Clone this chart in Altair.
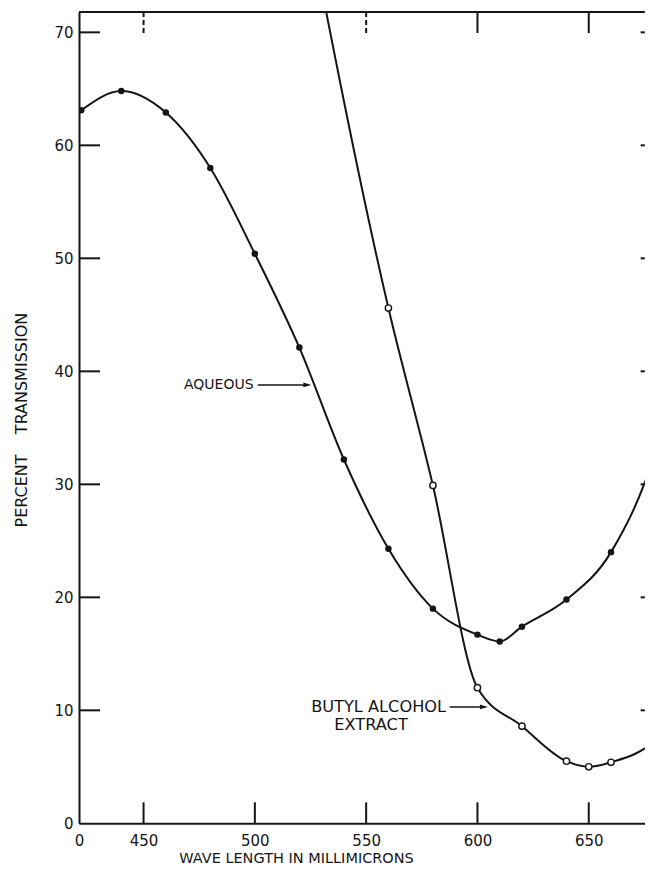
import altair as alt
import pandas as pd

FONT = "DejaVu Sans"
INK = "#151515"

# ---------------- data ----------------
# Aqueous solution (filled circles)
aq_wl = [422, 440, 460, 480, 500, 520, 540, 560, 580, 600, 610, 620, 640, 660]
aq_tr = [63.1, 64.8, 62.9, 58.0, 50.4, 42.1, 32.2, 24.3, 19.0, 16.7, 16.1, 17.4, 19.8, 24.0]
# where the drawn aqueous curve continues past the right edge of the picture
aq_ext_wl = [680, 700]
aq_ext_tr = [33.0, 50.0]

# Butyl alcohol extract (open circles)
bu_wl = [560, 580, 600, 620, 640, 650, 660]
bu_tr = [45.6, 29.9, 12.0, 8.6, 5.5, 5.0, 5.4]
# where the drawn curve continues above the top / past the right edge
bu_pre_wl = [520]
bu_pre_tr = [84.0]
bu_ext_wl = [680, 700]
bu_ext_tr = [7.4, 13.0]

x_label_values = [421, 450, 500, 550, 600, 650]
y_label_values = [0, 10, 20, 30, 40, 50, 60, 70]
bottom_ticks = [450, 500, 550, 600, 650]
top_ticks_solid = [600, 650]
top_ticks_dashed = [450, 550]
side_ticks = [10, 20, 30, 40, 50, 60, 70]

ann_text = ["AQUEOUS", "BUTYL ALCOHOL", "EXTRACT"]
ann_x = [483.8, 555.6, 552.2]
ann_y = [38.8, 10.3, 8.7]
ann_size = [14, 16.2, 16.2]

arrow_x = [501.3, 587.5]
arrow_tip = [525.4, 604.7]
arrow_y = [38.8, 10.3]

# ---------------- layout ----------------
XMIN, XMAX = 421, 675.2
YMIN, YMAX = 0, 71.8
PX, PY = 2.226, 11.3            # pixels per data unit
W = (XMAX - XMIN) * PX
H = (YMAX - YMIN) * PY
TICK = 21                       # inward tick length in px
HEAD = 4                        # arrow head half-length in px
RIGHT_TICK_START = 673.3        # right-hand ticks start here (run off the picture)

xs = alt.Scale(domain=[XMIN, XMAX], nice=False, zero=False)
ys = alt.Scale(domain=[YMIN, YMAX], nice=False, zero=False)

x_axis = alt.Axis(
    values=x_label_values, labelExpr="datum.value < 430 ? '0' : datum.label",
    ticks=False, grid=False, domain=True, domainColor=INK, domainWidth=2,
    labelFont=FONT, labelFontSize=15, labelColor=INK, labelPadding=10.5,
    labelFlush=False, labelOverlap=False,
    title="WAVE LENGTH IN MILLIMICRONS", titleFont=FONT, titleFontSize=14.5,
    titleFontWeight="normal", titleColor=INK, titleX=217, titleY=39,
    titleAlign="center", titleBaseline="alphabetic", titleAnchor="start",
)
y_axis = alt.Axis(
    values=y_label_values, ticks=False, grid=False, domain=True,
    domainColor=INK, domainWidth=2, labelFont=FONT, labelFontSize=15,
    labelColor=INK, labelPadding=6, labelFlush=False, labelOverlap=False,
    title="PERCENT\u00a0\u00a0\u00a0\u00a0TRANSMISSION", titleFont=FONT,
    titleFontSize=16, titleFontWeight="normal", titleColor=INK,
    titleX=-58, titleY=H / 2 + 2, titleAngle=270, titleAlign="center",
    titleBaseline="middle", titleAnchor="start",
)


def X(field):
    return alt.X(field, scale=xs, axis=x_axis)


def Y(field):
    return alt.Y(field, scale=ys, axis=y_axis)


aq_line_df = pd.DataFrame({"x": aq_wl + aq_ext_wl, "y": aq_tr + aq_ext_tr})
bu_line_df = pd.DataFrame({"x": bu_pre_wl + bu_wl + bu_ext_wl,
                           "y": bu_pre_tr + bu_tr + bu_ext_tr})
aq_df = pd.DataFrame({"x": aq_wl, "y": aq_tr})
bu_df = pd.DataFrame({"x": bu_wl, "y": bu_tr})

aq_line = alt.Chart(aq_line_df).mark_line(
    color=INK, strokeWidth=2, interpolate="monotone", clip=True
).encode(x=X("x:Q"), y=Y("y:Q"))

bu_line = alt.Chart(bu_line_df).mark_line(
    color=INK, strokeWidth=2, interpolate="monotone", clip=True
).encode(x=X("x:Q"), y=Y("y:Q"))

aq_pts = alt.Chart(aq_df).mark_point(
    filled=True, color=INK, size=42, opacity=1, clip=True
).encode(x=X("x:Q"), y=Y("y:Q"))

bu_pts = alt.Chart(bu_df).mark_point(
    filled=True, fill="white", stroke=INK, strokeWidth=1.4, size=40,
    opacity=1, clip=True
).encode(x=X("x:Q"), y=Y("y:Q"))

# inward ticks and top border
dy_t = TICK / PY
dx_t = TICK / PX
bottom_df = pd.DataFrame({"x": bottom_ticks, "y": [YMIN] * len(bottom_ticks),
                          "y2": [YMIN + dy_t] * len(bottom_ticks)})
top_solid_df = pd.DataFrame({"x": top_ticks_solid, "y": [YMAX] * len(top_ticks_solid),
                             "y2": [YMAX - dy_t] * len(top_ticks_solid)})
top_dash_df = pd.DataFrame({"x": top_ticks_dashed, "y": [YMAX] * len(top_ticks_dashed),
                            "y2": [YMAX - dy_t] * len(top_ticks_dashed)})
left_df = pd.DataFrame({"y": side_ticks, "x": [XMIN] * len(side_ticks),
                        "x2": [XMIN + dx_t] * len(side_ticks)})
right_df = pd.DataFrame({"y": side_ticks, "x": [RIGHT_TICK_START] * len(side_ticks),
                         "x2": [XMAX] * len(side_ticks)})
border_df = pd.DataFrame({"x": [XMIN], "x2": [XMAX], "y": [YMAX]})


def vrules(df, dash=None):
    kw = dict(color=INK, strokeWidth=2)
    if dash:
        kw["strokeDash"] = dash
    return alt.Chart(df).mark_rule(**kw).encode(x=X("x:Q"), y=Y("y:Q"), y2="y2:Q")


def hrules(df):
    return alt.Chart(df).mark_rule(color=INK, strokeWidth=2).encode(
        x=X("x:Q"), x2="x2:Q", y=Y("y:Q"))


ticks = [vrules(bottom_df), vrules(top_solid_df), vrules(top_dash_df, [5, 3]),
         hrules(left_df), hrules(right_df), hrules(border_df)]

ann_df = pd.DataFrame({"t": ann_text, "x": ann_x, "y": ann_y, "fs": ann_size})
ann = alt.Chart(ann_df).mark_text(
    font=FONT, color=INK, align="center", baseline="middle"
).encode(x=X("x:Q"), y=Y("y:Q"), text="t:N",
         size=alt.Size("fs:Q", scale=None, legend=None))

head_off = HEAD / PX
arr_df = pd.DataFrame({"x": arrow_x, "x2": [t - head_off for t in arrow_tip],
                       "y": arrow_y})
arr_lines = alt.Chart(arr_df).mark_rule(color=INK, strokeWidth=1.5).encode(
    x=X("x:Q"), x2="x2:Q", y=Y("y:Q"))
arr_heads = alt.Chart(arr_df).mark_point(
    shape="M1,0L-1,-0.6L-1,0.6Z", filled=True, color=INK, size=64, opacity=1
).encode(x=X("x2:Q"), y=Y("y:Q"))

chart = alt.layer(
    aq_line, bu_line, *ticks, aq_pts, bu_pts, ann, arr_lines, arr_heads
).properties(
    width=W, height=H,
    autosize=alt.AutoSizeParams(type="none"),
    padding={"left": 71, "top": 4, "right": 0, "bottom": 46},
    background="white",
).configure_view(stroke=None)

chart.save("out.html", embed_options={"renderer": "svg", "actions": False})
